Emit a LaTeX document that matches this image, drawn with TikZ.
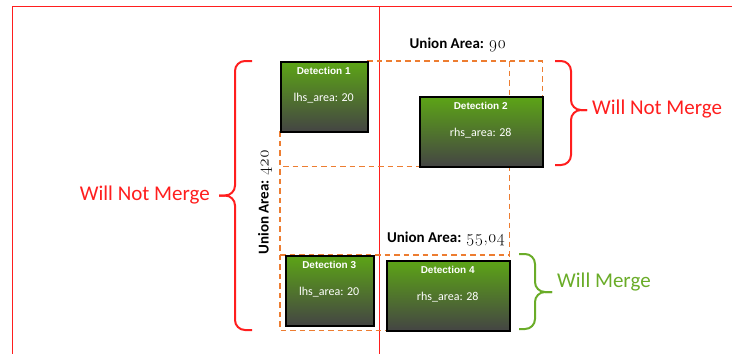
\documentclass[tikz,border=0pt]{standalone}
\usepackage{fontspec}
\setmainfont{Carlito}
\newfontfamily\arialfont{Liberation Sans}
\newfontfamily\numfont[Numbers=OldStyle]{Latin Modern Roman}
\definecolor{myred}{RGB}{255,30,30}
\definecolor{mygreen}{RGB}{106,172,40}
\definecolor{myorange}{RGB}{237,125,49}
\definecolor{boxtop}{RGB}{92,164,22}
\definecolor{boxbot}{RGB}{68,68,68}
\begin{document}
\begin{tikzpicture}[x=1pt,y=-1pt,
  det/.style={draw=black,line width=1.9pt,top color=boxtop,bottom color=boxbot,anchor=north west,inner sep=0pt},
  dtitle/.style={text=white,font=\arialfont\bfseries\fontsize{10}{11}\selectfont,inner sep=0pt},
  dcontent/.style={text=white,font=\fontsize{12}{13}\selectfont,inner sep=0pt},
  union/.style={draw=myorange,line width=1.8pt,dash pattern=on 5.5pt off 4pt},
  ulabel/.style={font=\fontsize{15}{16}\selectfont,inner sep=0pt},
  merge/.style={font=\fontsize{21}{22}\selectfont,inner sep=0pt},
  bracered/.style={draw=myred,line width=2pt,rounded corners=10pt},
  bracegreen/.style={draw=mygreen,line width=2pt,rounded corners=10pt},
  frame/.style={draw=myred,line width=1.8pt}]
\useasboundingbox (0,0) rectangle (732,354);
% frame
\coordinate (f1) at (732,6.5);
\coordinate (f2) at (12.5,6.5);
\coordinate (f3) at (12.5,354);
\coordinate (v1) at (379.5,6.5);
\coordinate (v2) at (379.5,354);
\draw[frame] (f1) -- (f2) -- (f3);
\draw[frame] (v1) -- (v2);
% anchor nodes for the detection boxes
\path (280,61) node[anchor=north west,minimum width=87pt,minimum height=70pt,inner sep=0pt] (d1) {};
\path (419,96) node[anchor=north west,minimum width=123pt,minimum height=70pt,inner sep=0pt] (d2) {};
\path (285,255) node[anchor=north west,minimum width=88pt,minimum height=70pt,inner sep=0pt] (d3) {};
\path (386,260) node[anchor=north west,minimum width=123pt,minimum height=70pt,inner sep=0pt] (d4) {};
% union outlines
\draw[union] (d1.north east) -- (d2.north east |- d1.north) -- (d2.north east);
\draw[union] (d1.south west) -- (d2.south west -| d1.west) -- (d2.south west);
\draw[union] (d1.south west) -- (d1.west |- d4.south) -- (d4.south west);
\draw[union] (d4.east |- d1.north) -- (d4.north east);
\draw[union] (d1.west |- d3.north) -- (d4.east |- d3.north);
% boxes
\node[det,minimum width=87pt,minimum height=70pt] at (d1.north west) {};
\node[det,minimum width=123pt,minimum height=70pt] at (d2.north west) {};
\node[det,minimum width=88pt,minimum height=70pt] at (d3.north west) {};
\node[det,minimum width=123pt,minimum height=70pt] at (d4.north west) {};
\node[dtitle] (t1) at ([yshift=-10pt]d1.north) {Detection 1};
\node[dcontent] (c1) at ([yshift=-37pt]d1.north) {lhs\_area: 20};
\node[dtitle] (t2) at ([yshift=-10pt]d2.north) {Detection 2};
\node[dcontent] (c2) at ([yshift=-37pt]d2.north) {rhs\_area: 28};
\node[dtitle] (t3) at ([yshift=-9.5pt]d3.north) {Detection 3};
\node[dcontent] (c3) at ([yshift=-37pt]d3.north) {lhs\_area: 20};
\node[dtitle] (t4) at ([yshift=-9.5pt]d4.north) {Detection 4};
\node[dcontent] (c4) at ([yshift=-37.5pt]d4.north) {rhs\_area: 28};
% union labels
\node[ulabel] (u1) at (458,45) {\textbf{Union Area:} {\numfont\fontsize{17}{18}\selectfont 90}};
\node[ulabel] (u2) at (446,239) {\textbf{Union Area:} {\numfont\fontsize{17}{18}\selectfont 55,04}};
\node[ulabel,rotate=90] (u3) at (265,202) {\textbf{Union Area:} {\numfont\fontsize{17}{18}\selectfont 420}};
% braces
\draw[bracered] (252,61) -- (235,61) -- (235,195.5) -- (219,195.5);
\draw[bracered] (219,195.5) -- (235,195.5) -- (235,330) -- (252,330);
\node[merge,text=myred,anchor=east] (w1) at (210,195) {Will Not Merge};
\draw[bracered] (555,61) -- (571,61) -- (571,110) -- (587,110);
\draw[bracered] (587,110) -- (571,110) -- (571,165) -- (555,165);
\node[merge,text=myred,anchor=west] (w2) at (592,109) {Will Not Merge};
\draw[bracegreen] (519,254) -- (535,254) -- (535,292) -- (552,292);
\draw[bracegreen] (552,292) -- (535,292) -- (535,329) -- (519,329);
\node[merge,text=mygreen,anchor=west] (w3) at (557,282) {Will Merge};
\end{tikzpicture}
\end{document}
